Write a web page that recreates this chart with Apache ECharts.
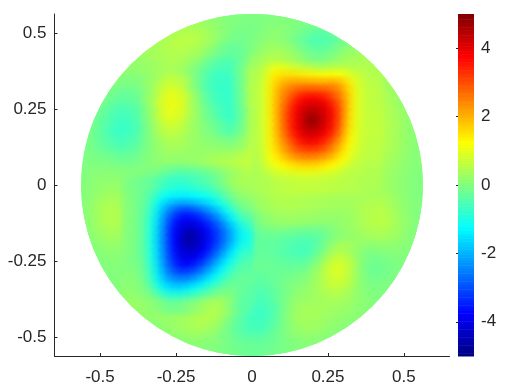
<!DOCTYPE html>
<html><head><meta charset="utf-8">
<style>html,body{margin:0;padding:0;background:#fff}#c{width:506px;height:392px}</style>
<script src="https://cdn.jsdelivr.net/npm/echarts@6/dist/echarts.min.js"></script></head>
<body><div id="c"></div>
<script>
const xTicks=[-0.5,-0.25,0,0.25,0.5];
const yTicks=[-0.5,-0.25,0,0.25,0.5];
const barTicks=[-4,-2,0,2,4];
const radius=0.5625;
const coarseX0=-0.55, coarseY0=0.55, coarseStep=0.05;
const coarse=[
[0,0,0,0,0,0,.15,.15,.15,.05,0,0,0,0,0,0,0,0,0,0,0,0,0],
[0,0,0,0,.15,.2,.3,.45,.35,.15,0,-.05,0,.1,0,-.1,-.15,0,.1,.05,0,0,0],
[0,0,0,.15,.3,.4,.55,.65,.5,.15,-.2,-.1,.15,.2,-.1,-.5,-.6,-.25,.1,.15,.05,0,0],
[0,0,.15,.2,.3,.4,.5,.4,.15,-.3,-.4,-.05,.4,.5,.3,-.1,-.1,.2,.4,.4,.15,0,0],
[0,.05,.15,.15,.15,.3,.45,.15,-.35,-.7,-.6,.4,.85,1.55,1.55,1.4,1.3,1.2,.75,.55,.3,.1,0],
[0,.05,0,-.15,0,.5,1,.45,-.45,-.8,-.7,.4,1,2.2,2.95,3.1,2.95,2.4,.95,.6,.4,.15,0],
[0,0,-.3,-.45,-.15,.7,1.3,.7,-.15,-.7,-.75,.4,1,2.45,3.8,4.3,3.9,2.75,1,.6,.5,.2,0],
[0,-.15,-.55,-.7,-.3,.6,1.1,.55,0,-.45,-.85,.3,1,2.5,3.95,4.9,4.05,2.7,1,.65,.55,.3,.05],
[0,-.2,-.65,-.75,-.35,.4,.7,.35,.1,-.15,-.5,.3,1,2.35,3.65,4.1,3.65,2.4,.95,.65,.55,.3,.05],
[0,-.15,-.4,-.5,-.15,.2,.4,.3,.2,.2,.15,.45,.95,1.9,2.75,3,2.65,1.7,.8,.65,.5,.3,.05],
[0,0,0,-.15,0,.15,.15,.15,.3,.5,.6,.7,.75,1.2,1.5,1.55,1.35,.95,.6,.55,.4,.2,.05],
[0,.15,.15,.15,0,-.25,-.7,-.7,-.55,-.25,.2,.45,.45,.6,.65,.65,.6,.55,.5,.45,.3,.15,0],
[0,.2,.35,.2,-.25,-1,-1.4,-1.4,-1.2,-.7,0,.25,.45,.55,.55,.5,.45,.4,.4,.4,.35,.15,0],
[0,.35,.55,.3,-.35,-1.65,-2.95,-3.3,-2.7,-1.8,-.7,.05,.3,.45,.45,.4,.35,.3,.35,.55,.55,.2,0],
[0,.3,.55,.35,-.4,-1.9,-3.65,-4.25,-3.75,-2.8,-1.6,-.4,.05,.2,.2,.15,.1,.15,.3,.55,.6,.3,0],
[0,.15,.35,.2,-.4,-1.95,-3.75,-4.65,-3.95,-2.9,-1.65,-.45,-.3,-.35,-.5,-.55,-.3,.2,.2,.3,.35,.2,0],
[0,0,.15,.05,-.35,-1.85,-3.5,-4,-3.35,-2.15,-1,-.3,-.25,-.35,-.55,-.6,.15,.75,.2,-.15,0,.05,0],
[0,0,.05,.05,-.25,-1.6,-2.85,-2.95,-2.2,-1.2,-.45,-.2,-.2,-.2,-.2,-.05,.6,1.1,.4,-.3,-.15,0,0],
[0,0,0,.15,-.05,-1,-1.6,-1.4,-.85,-.3,-.15,-.4,-.4,-.15,.05,.15,.55,.8,.3,-.1,0,0,0],
[0,0,0,.15,.3,.1,-.1,.05,.35,.5,-.1,-.45,-.6,-.25,.2,.3,.35,.4,.2,.05,0,0,0],
[0,0,0,0,.15,.3,.35,.4,.6,.5,-.15,-.6,-.75,-.3,.35,.45,.3,.2,.15,0,0,0,0],
[0,0,0,0,0,.05,.2,.35,.4,.15,-.3,-.55,-.55,-.15,.2,.3,.2,.05,0,0,0,0,0],
[0,0,0,0,0,0,0,.05,.05,0,-.1,-.2,-.2,-.1,0,.05,0,0,0,0,0,0,0]
];
const fineStep=0.025;
const redX0=0.025, redY0=0.4;
const redPatch=[
[.3,.4,.5,.45,.35,.25,.05,-.1,-.15,-.1,.05,.2,.3,.35,.4,.4],
[.4,.7,1.05,1.05,.95,.8,.7,.6,.5,.5,.6,.6,.55,.5,.5,.45],
[.45,.85,1.4,1.55,1.6,1.55,1.45,1.4,1.35,1.3,1.3,1.2,1,.75,.6,.5],
[.5,.95,1.55,1.95,2.15,2.25,2.25,2.2,2.15,2.15,2.2,1.95,1.45,.9,.65,.55],
[.5,1,1.6,2.2,2.55,2.85,3,3.05,3,2.9,2.65,2.3,1.6,.95,.7,.6],
[.5,1,1.65,2.3,2.8,3.35,3.7,3.8,3.75,3.5,3,2.5,1.7,1,.7,.6],
[.5,1,1.65,2.4,3.05,3.7,4.05,4.2,4.15,3.9,3.4,2.65,1.7,1,.7,.6],
[.5,1,1.65,2.45,3.2,3.85,4.3,4.55,4.4,4.05,3.55,2.7,1.65,1,.7,.65],
[.5,1,1.6,2.45,3.2,3.85,4.35,4.9,4.5,4.05,3.5,2.65,1.6,1,.7,.65],
[.5,1,1.6,2.4,3.15,3.8,4.25,4.5,4.3,3.95,3.4,2.5,1.55,.95,.7,.65],
[.5,1,1.55,2.3,2.95,3.55,3.95,4.1,3.95,3.6,3.05,2.3,1.4,.95,.7,.65],
[.5,1,1.5,2.1,2.6,3.2,3.55,3.65,3.5,3.15,2.55,1.95,1.3,.9,.65,.6],
[.5,.95,1.4,1.9,2.35,2.75,2.95,3,2.9,2.65,2.2,1.65,1.15,.8,.65,.6],
[.45,.9,1.25,1.55,1.9,2.15,2.3,2.3,2.2,2,1.7,1.3,1,.7,.6,.55],
[.4,.75,1,1.2,1.35,1.5,1.55,1.55,1.5,1.35,1.2,.95,.75,.6,.55,.5],
[.4,.55,.7,.8,.85,.9,.95,.95,.9,.85,.75,.65,.55,.55,.5,.45],
[.45,.45,.5,.6,.6,.65,.65,.65,.65,.6,.6,.55,.55,.5,.45,.45]
];
const blueX0=-0.4, blueY0=0;
const bluePatch=[
[-.1,-.15,-.2,-.3,-.45,-.6,-.7,-.7,-.6,-.5,-.4,-.25,-.05,.2,.4,.45],
[0,-.1,-.2,-.35,-.6,-.85,-.95,-1,-.95,-.85,-.7,-.55,-.3,-.05,.2,.35],
[.05,-.1,-.25,-.55,-1,-1.3,-1.4,-1.45,-1.4,-1.3,-1.2,-1,-.7,-.3,0,.15],
[.05,-.1,-.3,-.7,-1.4,-1.9,-2.2,-2.35,-2.3,-2.1,-1.85,-1.55,-1.15,-.75,-.3,0],
[.05,-.1,-.35,-.85,-1.65,-2.4,-2.95,-3.3,-3.3,-3.05,-2.7,-2.3,-1.8,-1.2,-.7,-.25],
[.05,-.1,-.4,-.95,-1.8,-2.7,-3.4,-3.8,-3.85,-3.65,-3.3,-2.9,-2.4,-1.75,-1.15,-.55],
[.05,-.1,-.4,-1,-1.9,-2.85,-3.65,-4.1,-4.25,-4.1,-3.75,-3.3,-2.8,-2.2,-1.6,-.95],
[.05,-.1,-.4,-1.05,-1.95,-2.9,-3.75,-4.3,-4.7,-4.4,-4,-3.5,-3,-2.4,-1.75,-1.15],
[.05,-.1,-.4,-1.05,-1.95,-2.9,-3.75,-4.3,-4.65,-4.35,-3.95,-3.45,-2.9,-2.3,-1.65,-1.05],
[.05,-.1,-.4,-1,-1.9,-2.85,-3.65,-4.15,-4.3,-4.15,-3.75,-3.2,-2.6,-1.95,-1.35,-.8],
[0,-.1,-.35,-1,-1.85,-2.75,-3.5,-3.95,-4,-3.8,-3.35,-2.75,-2.15,-1.5,-1,-.55],
[0,-.05,-.3,-.9,-1.75,-2.6,-3.25,-3.65,-3.6,-3.3,-2.8,-2.25,-1.65,-1.1,-.7,-.4],
[.05,0,-.25,-.8,-1.6,-2.35,-2.85,-3.05,-2.95,-2.65,-2.2,-1.7,-1.2,-.75,-.45,-.3],
[.1,.05,-.15,-.65,-1.4,-1.95,-2.25,-2.3,-2.2,-1.9,-1.55,-1.15,-.75,-.45,-.25,-.25],
[.15,.1,-.05,-.4,-1,-1.45,-1.6,-1.6,-1.4,-1.15,-.85,-.55,-.3,-.15,-.15,-.3],
[.2,.15,.1,-.1,-.4,-.75,-.85,-.8,-.65,-.45,-.25,-.05,.05,.05,-.1,-.35],
[.3,.25,.2,.15,.05,-.1,-.15,-.05,.05,.2,.35,.45,.45,.2,-.1,-.4]
];
const jetStops=[[-5,0,0,128],[-3.75,0,0,255],[-1.25,0,255,255],[1.25,255,255,0],[3.75,255,0,0],[5,128,0,0]];
const barLevels=[];for(let i=0;i<128;i++)barLevels.push(-5+(i+.5)*10/128);

function jet(v,a){
  v=Math.max(-5,Math.min(5,v));let i=0;
  while(i<jetStops.length-2&&v>jetStops[i+1][0])i++;
  const p=jetStops[i],q=jetStops[i+1],t=(v-p[0])/(q[0]-p[0]);
  const c=[1,2,3].map(k=>Math.round(p[k]+(q[k]-p[k])*t));
  return `rgba(${c[0]},${c[1]},${c[2]},${a})`;
}
function flatten(rows,x0,y0,step,edge){
  const out=[];
  rows.forEach((r,j)=>r.forEach((v,i)=>{
    const border=edge&&(j===0||i===0||j===rows.length-1||i===r.length-1);
    out.push([x0+i*step,y0-j*step,v,step,border?1:0]);
  }));
  return out;
}
function circleClip(api){
  const c=api.coord([0,0]),r=api.size([radius,0])[0];
  return {type:'circle',shape:{cx:c[0],cy:c[1],r:r}};
}
function cellRender(p,api){
  if(api.value(4))return null;
  const s=api.value(3),c=api.coord([api.value(0)-s/2,api.value(1)+s/2]),z=api.size([s,s]);
  return {type:'rect',shape:{x:c[0],y:c[1],width:z[0]+.6,height:z[1]+.6},
    style:{fill:jet(api.value(2),1)},clipPath:circleClip(api)};
}
function splatRender(p,api){
  const s=api.value(3),c=api.coord([api.value(0),api.value(1)]),r=api.size([s,0])[0]*1.6,v=api.value(2);
  return {type:'circle',shape:{cx:c[0],cy:c[1],r:r},
    style:{fill:{type:'radial',x:.5,y:.5,r:.5,colorStops:[
      {offset:0,color:jet(v,.9)},{offset:.4,color:jet(v,.6)},{offset:1,color:jet(v,0)}]}},
    clipPath:circleClip(api)};
}
function layer(data,render){
  return {type:'custom',coordinateSystem:'cartesian2d',xAxisIndex:0,yAxisIndex:0,data:data,
    renderItem:render,clip:false,silent:true,animation:false,encode:{x:0,y:1},progressive:0};
}
const ink='#262626';
const font={fontFamily:'Liberation Sans',fontSize:17,color:ink};
const coarseData=flatten(coarse,coarseX0,coarseY0,coarseStep,false);
const redData=flatten(redPatch,redX0,redY0,fineStep,true);
const blueData=flatten(bluePatch,blueX0,blueY0,fineStep,true);
const barStep=10/128;
const option={
  animation:false,
  grid:[{left:54.5,top:14,width:395,height:342},{left:458,top:14,width:16,height:342}],
  xAxis:[
    {type:'value',gridIndex:0,min:-0.65,max:0.65,splitLine:{show:false},
     axisLine:{show:true,onZero:false,lineStyle:{color:ink,width:1}},
     axisTick:{show:true,inside:true,length:3,lineStyle:{color:ink},customValues:xTicks},
     axisLabel:{...font,margin:13,customValues:xTicks,formatter:v=>String(v)}},
    {type:'value',gridIndex:1,min:0,max:1,show:false}
  ],
  yAxis:[
    {type:'value',gridIndex:0,min:-0.5625,max:0.5625,splitLine:{show:false},
     axisLine:{show:true,onZero:false,lineStyle:{color:ink,width:1}},
     axisTick:{show:true,inside:true,length:3,lineStyle:{color:ink},customValues:yTicks},
     axisLabel:{...font,margin:8,customValues:yTicks,formatter:v=>String(v)}},
    {type:'value',gridIndex:1,position:'right',min:-5,max:5,splitLine:{show:false},
     axisLine:{show:false},
     axisTick:{show:true,inside:true,length:2,lineStyle:{color:ink},customValues:barTicks},
     axisLabel:{...font,margin:7,customValues:barTicks,formatter:v=>String(v)}}
  ],
  series:[
    layer(coarseData,cellRender),
    layer(coarseData,splatRender),
    layer(redData,cellRender),
    layer(redData,splatRender),
    layer(blueData,cellRender),
    layer(blueData,splatRender),
    {type:'custom',coordinateSystem:'cartesian2d',xAxisIndex:1,yAxisIndex:1,silent:true,animation:false,clip:false,
     data:barLevels.map(v=>[0.5,v]),encode:{x:0,y:1},progressive:0,z:3,
     renderItem(p,api){
       const v=api.value(1),a=api.coord([0,v+barStep/2]),b=api.coord([1,v-barStep/2]);
       return {type:'rect',shape:{x:a[0],y:a[1],width:b[0]-a[0],height:b[1]-a[1]+.5},style:{fill:jet(v,1)}};
     }}
  ]
};
echarts.init(document.getElementById('c'),null,{renderer:'canvas'}).setOption(option);
</script></body></html>
